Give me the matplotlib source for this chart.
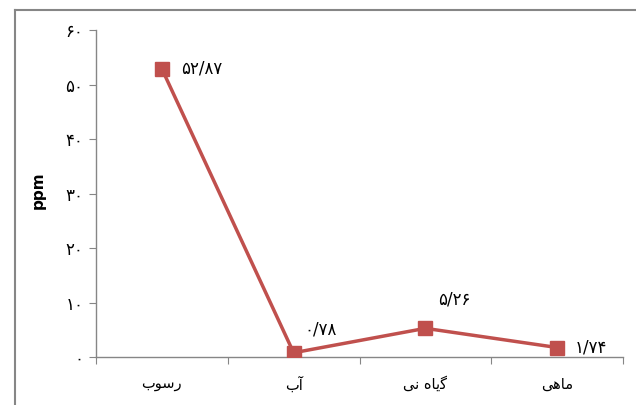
import matplotlib
matplotlib.use("Agg")
import matplotlib.pyplot as plt
from matplotlib.lines import Line2D

plt.rcParams['font.family'] = ['DejaVu Sans']

# Categories (Arabic presentation forms, laid out left-to-right for display)
categories = [
    "\uFE8F\uFEEE\uFEB3\uFEAD",                    # رسوب
    "\uFE8F\uFE81",                                # آب
    "\uFBFD\uFEE7 \uFEE9\uFE8E\uFBFE\uFB94",       # گیاه نی
    "\uFBFD\uFEEB\uFE8E\uFEE3",                    # ماهی
]
values = [52.87, 0.78, 5.26, 1.74]
value_labels = ["۵۲/۸۷", "۰/۷۸", "۵/۲۶", "۱/۷۴"]
y_ticks = [0, 10, 20, 30, 40, 50, 60]
y_tick_labels = ["۰", "۱۰", "۲۰", "۳۰", "۴۰", "۵۰", "۶۰"]

red = "#C0504D"
gray = "#868686"

fig = plt.figure(figsize=(6.36, 4.05), dpi=100)
ax = fig.add_axes([96 / 636, 1 - 357 / 405, (623 - 96) / 636, (357 - 30) / 405])

x = list(range(len(values)))
ax.plot(x, values, color=red, linewidth=2.5, marker="s", markersize=10,
        markerfacecolor=red, markeredgecolor=red, zorder=3)

ax.set_xlim(-0.5, len(values) - 0.5)
ax.set_ylim(0, 60)
ax.set_yticks(y_ticks)
ax.set_yticklabels(y_tick_labels, fontsize=12)

# Category labels centred, tick marks on the category boundaries
ax.set_xticks([i - 0.5 for i in range(len(values) + 1)])
ax.set_xticklabels([])
ax.set_xticks(x, minor=True)
ax.set_xticklabels(categories, minor=True, fontsize=10.5)
ax.tick_params(axis="x", which="minor", length=0, pad=14)
ax.tick_params(axis="x", which="major", length=5, color=gray, direction="out")
ax.tick_params(axis="y", length=5, color=gray, direction="out", pad=4)

for side in ("top", "right"):
    ax.spines[side].set_visible(False)
for side in ("left", "bottom"):
    ax.spines[side].set_color(gray)
    ax.spines[side].set_linewidth(1)

ax.set_ylabel("ppm", fontsize=11, fontweight="bold")
ax.yaxis.set_label_coords(-0.095, 0.51)

# Value labels beside each marker
offsets = [(14, 0, "left", "center"), (8, 10, "left", "bottom"),
           (9, 14, "left", "bottom"), (13, 0, "left", "center")]
for xi, v, lab, (dx, dy, ha, va) in zip(x, values, value_labels, offsets):
    ax.annotate(lab, (xi, v), xytext=(dx, dy), textcoords="offset points",
                ha=ha, va=va, fontsize=12)

# Outer chart-area frame
fig.add_artist(Line2D([15 / 636, 15 / 636], [0, 1 - 10 / 405],
                      transform=fig.transFigure, color=gray, linewidth=1.5))
fig.add_artist(Line2D([15 / 636, 1], [1 - 10 / 405, 1 - 10 / 405],
                      transform=fig.transFigure, color=gray, linewidth=1.5))

fig.savefig("out.png", dpi=100)
